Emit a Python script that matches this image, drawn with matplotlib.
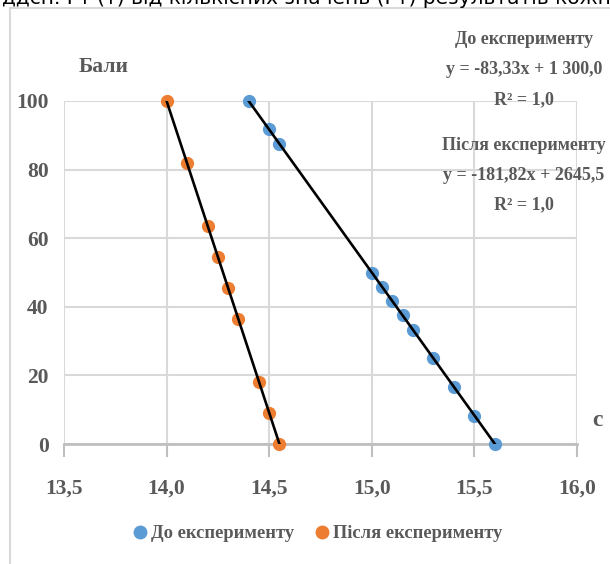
import matplotlib.pyplot as plt
from matplotlib.lines import Line2D

# Час (с) і бали до та після експерименту
before_x = [14.4, 14.5, 14.55, 15.0, 15.05, 15.1, 15.15, 15.2, 15.3, 15.4, 15.5, 15.6]
before_y = [100, 91.7, 87.5, 50, 45.8, 41.7, 37.5, 33.3, 25, 16.7, 8.3, 0]
after_x = [14.0, 14.1, 14.2, 14.25, 14.3, 14.35, 14.45, 14.5, 14.55]
after_y = [100, 81.8, 63.6, 54.5, 45.5, 36.4, 18.2, 9.1, 0]

x_ticks = [13.5, 14.0, 14.5, 15.0, 15.5, 16.0]
x_labels = ['13,5', '14,0', '14,5', '15,0', '15,5', '16,0']
y_ticks = [0, 20, 40, 60, 80, 100]

eq_lines = ['До експерименту', 'y = -83,33x + 1 300,0', 'R² = 1,0',
            'Після експерименту', 'y = -181,82x + 2645,5', 'R² = 1,0']

BLUE = '#5B9BD5'
ORANGE = '#ED7D31'
GRAY = '#595959'
GRID = '#d9d9d9'
FONT = 'Liberation Serif'

W, H = 610, 564
fig = plt.figure(figsize=(W / 100, H / 100), dpi=100)


def fx(px):
    return px / W


def fy(py):
    return 1 - py / H


# axes area in pixels: x 64..577, y 101..444
ax = fig.add_axes([fx(64), fy(444), fx(577) - fx(64), fy(101) - fy(444)])

ax.plot(before_x, before_y, 'o', color=BLUE, markersize=8.5, zorder=3, clip_on=False)
ax.plot(after_x, after_y, 'o', color=ORANGE, markersize=8.5, zorder=3, clip_on=False)
# linear trend lines
ax.plot([before_x[0], before_x[-1]], [before_y[0], before_y[-1]], color='black', lw=1.9, zorder=4)
ax.plot([after_x[0], after_x[-1]], [after_y[0], after_y[-1]], color='black', lw=1.9, zorder=4)

ax.set_xlim(13.5, 16.0)
ax.set_ylim(0, 100)
ax.set_xticks(x_ticks)
ax.set_xticklabels(x_labels)
ax.set_yticks(y_ticks)
ax.grid(True, color=GRID, lw=1.5)
ax.set_axisbelow(True)
for s in ['top', 'right', 'left']:
    ax.spines[s].set_visible(False)
ax.spines['bottom'].set_color('#bfbfbf')
ax.spines['bottom'].set_linewidth(2)
ax.spines['bottom'].set_zorder(2)
ax.tick_params(axis='x', length=9, width=1.5, color='#bfbfbf', pad=16)
ax.tick_params(axis='y', length=0, pad=11)
for lab in ax.get_xticklabels() + ax.get_yticklabels():
    lab.set_fontfamily(FONT)
    lab.set_fontweight('bold')
    lab.set_fontsize(15.5)
    lab.set_color(GRAY)

fig.text(fx(104), fy(67), 'Бали', ha='center', va='center', family=FONT,
         weight='bold', fontsize=15.5, color=GRAY)
fig.text(fx(597), fy(420), 'c', ha='center', va='center', family=FONT,
         weight='bold', fontsize=17, color=GRAY)

eq_y = [40, 70, 100, 145, 175, 205]
for t, py in zip(eq_lines, eq_y):
    fig.text(fx(524), fy(py), t, ha='center', va='center', family=FONT,
             weight='bold', fontsize=13, color=GRAY)

handles = [Line2D([], [], ls='', marker='o', color=BLUE, markersize=9),
           Line2D([], [], ls='', marker='o', color=ORANGE, markersize=9)]
fig.legend(handles, ['До експерименту', 'Після експерименту'], loc='center',
           bbox_to_anchor=(fx(316), fy(534)), ncol=2, frameon=False,
           handletextpad=0.0, columnspacing=0.9, handlelength=1.2,
           prop={'family': FONT, 'weight': 'bold', 'size': 13.3}, labelcolor=GRAY)

# chart frame and clipped heading line of the page
fig.add_artist(Line2D([fx(10), fx(10)], [fy(8), 0], color=GRID, lw=1.5))
fig.add_artist(Line2D([fx(10), 1], [fy(8), fy(8)], color=GRID, lw=1.5))
fig.text(fx(2), fy(4), 'ддсн. Гт (т) від кількісних значень (Гт) результатів кожно',
         ha='left', va='baseline', family='DejaVu Sans', fontsize=14.5, color='black')

fig.savefig('out.png', dpi=100)
